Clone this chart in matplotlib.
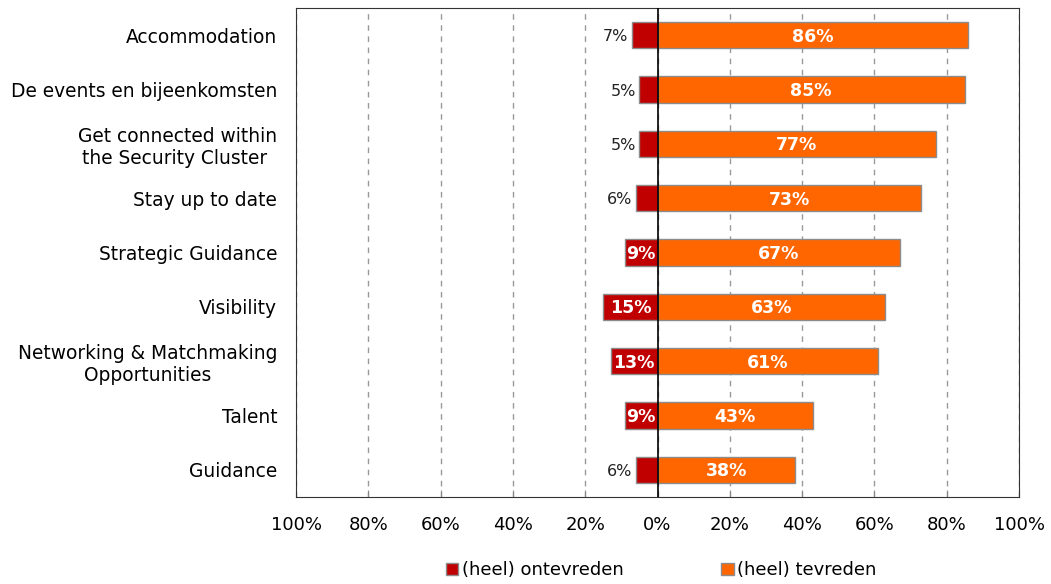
import matplotlib.pyplot as plt
import numpy as np

CATEGORIES = [
    "Accommodation",
    "De events en bijeenkomsten",
    "Get connected within\nthe Security Cluster ",
    "Stay up to date",
    "Strategic Guidance",
    "Visibility",
    "Networking & Matchmaking\nOpportunities",
    "Talent",
    "Guidance",
]
ONTEVREDEN = [7, 5, 5, 6, 9, 15, 13, 9, 6]
TEVREDEN = [86, 85, 77, 73, 67, 63, 61, 43, 38]
XTICKS = [-100, -80, -60, -40, -20, 0, 20, 40, 60, 80, 100]

C_RED = "#C00000"
C_ORANGE = "#FF6600"
C_EDGE = "#8C8C8C"

plt.rcParams["font.family"] = ["DejaVu Sans"]

fig = plt.figure(figsize=(10.51, 5.84), dpi=100)
ax = fig.add_axes([296 / 1051, 1 - 497 / 584, (1019 - 296) / 1051, (497 - 8) / 584])

y = np.arange(len(CATEGORIES))
h = 0.48
neg = -np.array(ONTEVREDEN)
b_red = ax.barh(y, neg, height=h, color=C_RED, edgecolor=C_EDGE, linewidth=1,
                label="(heel) ontevreden", zorder=3)
b_or = ax.barh(y, TEVREDEN, height=h, color=C_ORANGE, edgecolor=C_EDGE, linewidth=1,
               label="(heel) tevreden", zorder=3)

for yi, v in zip(y, TEVREDEN):
    ax.text(v / 2, yi + 0.03, f"{v}%", ha="center", va="center", color="white",
            fontsize=12.5, fontweight="bold", zorder=5)
for yi, v in zip(y, ONTEVREDEN):
    if v >= 9:
        ax.text(-v / 2, yi + 0.03, f"{v}%", ha="center", va="center", color="white",
                fontsize=12.5, fontweight="bold", zorder=5)
    else:
        ax.text(-v - 1, yi + 0.03, f"{v}%", ha="right", va="center", color="#222222",
                fontsize=11.5, zorder=5)

ax.axvline(0, color="black", lw=1.2, zorder=4)
ax.set_xlim(-100, 100)
ax.set_ylim(len(CATEGORIES) - 0.5, -0.5)
ax.set_xticks(XTICKS)
ax.set_xticklabels([f"{abs(t)}%" for t in XTICKS], fontsize=13)
ax.tick_params(axis="x", direction="in", length=5, color="#888888", pad=14)
ax.set_yticks(y)
ax.set_yticklabels(CATEGORIES, fontsize=13.4)
for lbl in ax.get_yticklabels():
    lbl.set_multialignment("center")
ax.tick_params(axis="y", length=0, pad=13.5)
ax.grid(axis="x", ls=(0, (4, 4)), color="#999999", lw=1, zorder=0)
ax.set_axisbelow(True)
for s in ax.spines.values():
    s.set_color("#333333")

fig.legend(handles=[b_red, b_or], loc="lower center", bbox_to_anchor=(0.629, -0.02),
           ncol=2, frameon=False, fontsize=13, handlelength=0.7, handleheight=0.7,
           handletextpad=0.2, columnspacing=5.4)

fig.savefig("out.png", dpi=100)
